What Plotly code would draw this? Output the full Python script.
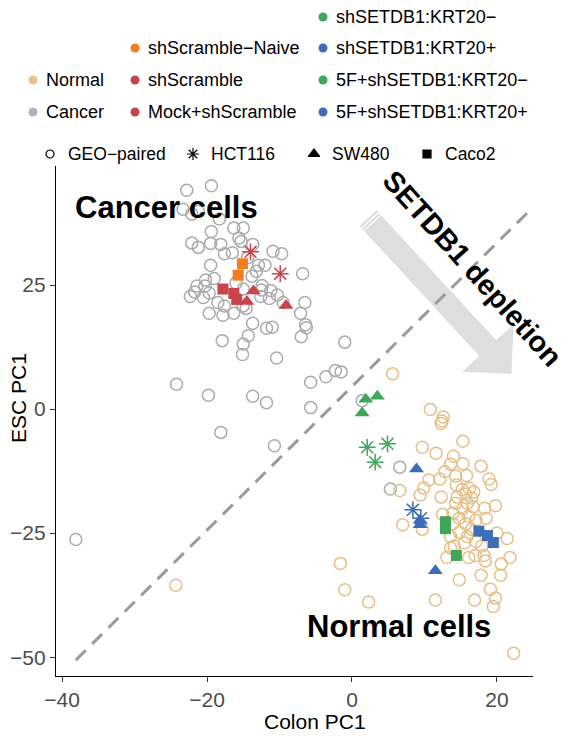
import math
import plotly.graph_objects as go

# ---------------- canvas / plot box (pixels) ----------------
W, H = 583, 736
PL, PR, PT, PB = 56, 533, 166, 676
X_RANGE = [-40.83, 24.97]
Y_RANGE = [-53.8, 49.0]

FONT = "Liberation Sans, Arial, sans-serif"

# ---------------- data ----------------
X_TICKS = [-40, -20, 0, 20]
X_TICK_TEXT = ["\u221240", "\u221220", "0", "20"]
Y_TICKS = [-50, -25, 0, 25]
Y_TICK_TEXT = ["\u221250", "\u221225", "0", "25"]

cancer_x = [-19.4, -22.8, -23.3, -22.1, -21.2, -18.3, -19.4, -16.3, -15.0, -15.6,
            -22.1, -21.2, -19.5, -18.1, -17.6, -16.5, -15.3, -13.7, -10.9, -9.7,
            -19.5, -14.4, -12.9, -12.0, -13.2, -13.8, -6.8, -20.2, -19.0, -21.4,
            -20.3, -21.7, -22.3, -20.5, -19.7, -18.5, -17.6, -19.7, -17.8, -16.3,
            -15.0, -14.6, -12.6, -11.4, -10.3, -9.5, -11.2, -12.5, -15.0, -16.0,
            -12.4, -7.1, -6.5, -6.4, -6.3, -7.0, -13.7, -11.8, -11.0, -14.3,
            -17.9, -15.0, -15.1, -10.4, -1.0,
            -24.2, -19.8, -13.7, -11.8, -18.1, -10.7, -5.7, -5.7, -3.6, -2.3,
            -1.5, 1.4, 6.6, 5.3, -38.1]
cancer_y = [45.0, 44.1, 40.3, 39.3, 39.9, 38.3, 35.8, 36.5, 36.5, 34.5,
            33.5, 32.6, 33.4, 33.2, 31.3, 31.5, 33.8, 33.2, 31.8, 31.3,
            29.0, 30.5, 29.0, 29.0, 27.8, 26.8, 27.3, 26.0, 26.3, 24.8,
            24.8, 23.6, 22.7, 22.5, 23.4, 21.5, 20.8, 19.3, 18.9, 19.3,
            20.8, 20.3, 22.7, 22.3, 23.0, 21.5, 23.9, 24.0, 24.2, 25.4,
            24.9, 19.3, 21.5, 17.0, 16.4, 14.6, 17.3, 16.3, 16.5, 14.8,
            13.8, 13.1, 11.0, 10.3, 13.5,
            5.0, 2.8, 2.6, 1.3, -4.7, -7.4, 5.4, 0.3, 6.5, 7.8,
            7.5, 1.7, -11.7, -16.1, -26.3]

normal_x = [5.6, 10.8, 12.6, 12.3, 12.4, 15.3, 9.7, 11.6, 14.0, 13.6,
            15.3, 17.8, 12.8, 14.3, 15.8, 18.9, 19.2, 12.1, 10.6, 9.9,
            6.6, 14.4, 15.2, 16.2, 16.8, 15.7, 16.5, 14.5, 9.4, 12.3,
            14.3, 15.9, 16.7, 15.3, 18.3, 19.8, 12.5, 13.9, 14.8, 16.1,
            17.1, 18.5, 7.0, 9.7, 13.9, 15.7, 16.5, 14.8, 13.6, 15.9,
            17.1, 15.5, 14.1, 13.6, 17.9, 21.4, 20.0, 13.1, 16.1, 17.0,
            18.2, 18.4, 21.8, 20.6, 20.5, 17.8, 14.8, 19.1, 19.8, 16.9,
            19.5, 11.5, -1.6, -1.0, 2.3, -24.3, 22.3]
normal_y = [7.1, -0.1, -1.6, -2.9, -2.4, -6.5, -7.7, -8.9, -9.5, -11.1,
            -11.0, -11.5, -12.6, -13.5, -13.4, -14.1, -15.2, -14.1, -14.3, -15.9,
            -16.4, -15.3, -16.2, -16.0, -16.7, -17.1, -17.9, -17.7, -17.3, -17.7,
            -19.0, -19.0, -19.7, -20.1, -20.0, -19.5, -21.2, -21.0, -22.0, -21.6,
            -22.4, -22.0, -23.3, -24.2, -23.1, -23.1, -24.2, -24.8, -25.7, -25.7,
            -26.7, -27.0, -27.6, -28.0, -27.6, -26.1, -25.0, -29.9, -29.9, -29.5,
            -29.5, -30.6, -29.9, -31.2, -33.5, -33.5, -34.4, -36.3, -38.1, -38.5,
            -39.8, -38.5, -31.1, -36.4, -38.9, -35.5, -49.2]

# treated cell lines (one entry per point)
trt_group = (["shScramble\u2212Naive"] * 2
             + ["shScramble"] * 5
             + ["Mock+shScramble"] * 3
             + ["shSETDB1:KRT20\u2212"] * 6
             + ["5F+shSETDB1:KRT20\u2212"] * 3
             + ["shSETDB1:KRT20+"] * 6
             + ["5F+shSETDB1:KRT20+"] * 3)
trt_line = (["Caco2"] * 2
            + ["HCT116"] * 2 + ["SW480"] * 3
            + ["Caco2"] * 3
            + ["SW480"] * 3 + ["HCT116"] * 3
            + ["Caco2"] * 3
            + ["SW480"] * 4 + ["HCT116"] * 2
            + ["Caco2"] * 3)
trt_x = [-15.1, -15.7,
         -14.0, -9.9, -13.6, -14.5, -9.1,
         -17.8, -16.3, -15.9,
         1.9, 3.5, 1.4, 2.1, 4.9, 3.2,
         12.9, 12.9, 14.4,
         8.9, 9.4, 9.4, 11.5, 8.4, 9.5,
         17.5, 18.7, 19.5]
trt_y = [29.3, 27.0,
         31.7, 27.3, 23.8, 21.7, 20.9,
         24.2, 23.3, 22.1,
         2.0, 2.6, -0.8, -7.7, -7.0, -10.7,
         -22.7, -24.1, -29.5,
         -12.1, -22.4, -23.3, -32.6, -20.3, -22.0,
         -24.6, -25.5, -26.9]

# reference diagonal and depletion arrow (data coordinates)
diag_x = [-38.1, 24.9]
diag_y = [-50.6, 40.6]
arrow_start = (2.2, 38.5)
arrow_tip = (22.0, 7.1)

# ---------------- styles ----------------
COL_NORMAL = "#E6BF87"
COL_CANCER = "#ABABAB"
GROUP_COLORS = {
    "shScramble\u2212Naive": "#F47D20",
    "shScramble": "#C9444D",
    "Mock+shScramble": "#C9444D",
    "shSETDB1:KRT20\u2212": "#40A65A",
    "shSETDB1:KRT20+": "#3D6DB5",
    "5F+shSETDB1:KRT20\u2212": "#40A65A",
    "5F+shSETDB1:KRT20+": "#3D6DB5",
}
LINE_SYMBOLS = {"HCT116": "asterisk-open", "SW480": "triangle-up", "Caco2": "square"}
LINE_SIZES = {"HCT116": 14, "SW480": 13, "Caco2": 11}


def px_x(px):
    return X_RANGE[0] + (px - PL) / (PR - PL) * (X_RANGE[1] - X_RANGE[0])


def px_y(py):
    return Y_RANGE[1] - (py - PT) / (PB - PT) * (Y_RANGE[1] - Y_RANGE[0])


def to_px(x, y):
    return (PL + (x - X_RANGE[0]) / (X_RANGE[1] - X_RANGE[0]) * (PR - PL),
            PT + (Y_RANGE[1] - y) / (Y_RANGE[1] - Y_RANGE[0]) * (PB - PT))


fig = go.Figure()

fig.add_trace(go.Scatter(
    x=cancer_x, y=cancer_y, mode="markers", showlegend=False, hoverinfo="skip",
    marker=dict(symbol="circle-open", size=12, color=COL_CANCER, line=dict(width=1.5, color=COL_CANCER))))
fig.add_trace(go.Scatter(
    x=normal_x, y=normal_y, mode="markers", showlegend=False, hoverinfo="skip",
    marker=dict(symbol="circle-open", size=12, color=COL_NORMAL, line=dict(width=1.5, color=COL_NORMAL))))

combos = []
for g, l in zip(trt_group, trt_line):
    if (g, l) not in combos:
        combos.append((g, l))
for g, l in combos:
    xs = [x for x, gg, ll in zip(trt_x, trt_group, trt_line) if gg == g and ll == l]
    ys = [y for y, gg, ll in zip(trt_y, trt_group, trt_line) if gg == g and ll == l]
    c = GROUP_COLORS[g]
    fig.add_trace(go.Scatter(
        x=xs, y=ys, mode="markers", showlegend=False, hoverinfo="skip",
        marker=dict(symbol=LINE_SYMBOLS[l], size=LINE_SIZES[l], color=c,
                    line=dict(width=1.5 if l == "HCT116" else 0, color=c))))

# ---------------- arrow (polygon computed in pixel space) ----------------
sx, sy = to_px(*arrow_start)
tx, ty = to_px(*arrow_tip)
L = math.hypot(tx - sx, ty - sy)
dx, dy = (tx - sx) / L, (ty - sy) / L
nx, ny = dy, -dx
HW, HHW, HL = 11.5, 35, 35
bx, by = tx - dx * HL, ty - dy * HL
pts_px = [
    (sx + nx * HW, sy + ny * HW),
    (bx + nx * HW, by + ny * HW),
    (bx + nx * HHW, by + ny * HHW),
    (tx, ty),
    (bx - nx * HHW, by - ny * HHW),
    (bx - nx * HW, by - ny * HW),
    (sx - nx * HW, sy - ny * HW),
]
path = "M " + " L ".join(f"{px_x(p[0]):.4f},{px_y(p[1]):.4f}" for p in pts_px) + " Z"
shapes = [dict(type="path", path=path, xref="x", yref="y", fillcolor="#DEDEDE",
               line=dict(width=0), layer="below")]
for off in (3, 6.5):
    a = (sx + dx * off + nx * HW, sy + dy * off + ny * HW)
    b = (sx + dx * off - nx * HW, sy + dy * off - ny * HW)
    shapes.append(dict(type="line", xref="x", yref="y",
                       x0=px_x(a[0]), y0=px_y(a[1]), x1=px_x(b[0]), y1=px_y(b[1]),
                       line=dict(color="white", width=1.2), layer="below"))
shapes.append(dict(type="line", xref="x", yref="y", x0=diag_x[0], y0=diag_y[0],
                   x1=diag_x[1], y1=diag_y[1],
                   line=dict(color="#9A9A9A", width=3, dash="14px,9px"), layer="below"))

# ---------------- annotations (pixel overlay axis x2/y2) ----------------
ann = []


def text(px, py, s, size, bold=False, color="black", xanchor="left", angle=0):
    ann.append(dict(x=px, y=py, xref="x2", yref="y2",
                    text=f"<b>{s}</b>" if bold else s, showarrow=False,
                    xanchor=xanchor, yanchor="middle", textangle=angle,
                    font=dict(family=FONT, size=size, color=color)))


text(166, 207, "Cancer cells", 31, bold=True, xanchor="center")
text(399, 626, "Normal cells", 31, bold=True, xanchor="center")
text(472, 268, "SETDB1 depletion", 29, bold=True, xanchor="center", angle=48)
text(315, 721, "Colon PC1", 21, xanchor="center")
text(18, 398, "ESC PC1", 21, xanchor="center", angle=-90)

# ---------------- custom legend ----------------
LEG_COLOR_ITEMS = [
    ("Normal", "#E5C28F", 33, 80), ("Cancer", "#B3B3B3", 33, 112),
    ("shScramble\u2212Naive", GROUP_COLORS["shScramble\u2212Naive"], 135, 48),
    ("shScramble", GROUP_COLORS["shScramble"], 135, 80),
    ("Mock+shScramble", GROUP_COLORS["Mock+shScramble"], 135, 112),
    ("shSETDB1:KRT20\u2212", GROUP_COLORS["shSETDB1:KRT20\u2212"], 323, 17),
    ("shSETDB1:KRT20+", GROUP_COLORS["shSETDB1:KRT20+"], 323, 48),
    ("5F+shSETDB1:KRT20\u2212", GROUP_COLORS["5F+shSETDB1:KRT20\u2212"], 323, 80),
    ("5F+shSETDB1:KRT20+", GROUP_COLORS["5F+shSETDB1:KRT20+"], 323, 112),
]
for label, col, px, py in LEG_COLOR_ITEMS:
    fig.add_trace(go.Scatter(x=[px], y=[py], xaxis="x2", yaxis="y2", mode="markers",
                             cliponaxis=False, showlegend=False, hoverinfo="skip",
                             marker=dict(symbol="circle", size=9, color=col)))
    text(px + 11, py, label, 18)

LEG_SHAPE_ITEMS = [
    ("GEO\u2212paired", "circle-open", 8, 50),
    ("HCT116", "asterisk-open", 10, 193),
    ("SW480", "triangle-up", 10, 314),
    ("Caco2", "square", 8, 427),
]
for label, sym, sz, px in LEG_SHAPE_ITEMS:
    fig.add_trace(go.Scatter(x=[px], y=[154], xaxis="x2", yaxis="y2", mode="markers",
                             cliponaxis=False, showlegend=False, hoverinfo="skip",
                             marker=dict(symbol=sym, size=sz, color="black",
                                         line=dict(width=1.2, color="black"))))
    text(px + 16, 154, label, 17.5)

axis_common = dict(showline=True, linecolor="black", linewidth=1.2, ticks="outside",
                   ticklen=5, tickwidth=1.2, tickcolor="#333333", showgrid=False,
                   zeroline=False, mirror=False, automargin=False, fixedrange=True,
                   tickfont=dict(family=FONT, size=21, color="#4D4D4D"))

fig.update_layout(
    width=W, height=H, autosize=False,
    margin=dict(l=0, r=0, t=0, b=0, pad=0),
    plot_bgcolor="rgba(0,0,0,0)", paper_bgcolor="white",
    xaxis=dict(range=X_RANGE, tickvals=X_TICKS, ticktext=X_TICK_TEXT,
               domain=[PL / W, PR / W], anchor="y", **axis_common),
    yaxis=dict(range=Y_RANGE, tickvals=Y_TICKS, ticktext=Y_TICK_TEXT,
               domain=[(H - PB) / H, (H - PT) / H], anchor="x", **axis_common),
    xaxis2=dict(range=[0, W], domain=[0, 1], anchor="y2", visible=False, fixedrange=True),
    yaxis2=dict(range=[H, 0], domain=[0, 1], anchor="x2", visible=False, fixedrange=True),
    shapes=shapes, annotations=ann, showlegend=False,
)

fig.write_html("out.html", config={"displayModeBar": False},
               post_script="document.body.style.margin='0';")
